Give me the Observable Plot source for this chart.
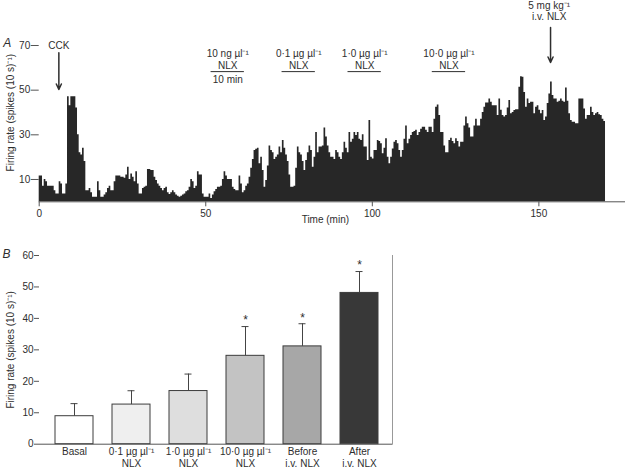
<!DOCTYPE html>
<html><head><meta charset="utf-8">
<script src="https://cdn.jsdelivr.net/npm/d3@7"></script>
<script src="https://cdn.jsdelivr.net/npm/@observablehq/plot@0.6"></script>
<style>
html,body{margin:0;padding:0;background:#fff;}
#wrap{position:relative;width:629px;height:469px;overflow:hidden;background:#fff;}
#wrap svg{position:absolute;left:0;}
</style></head><body><div id="wrap"></div>
<script>
// ---------- Panel A data: firing rate, 0.5-min bins ----------
const binMinutes = 0.5;
const rateA_0to42 = [
  11.5, 11.5, 7, 10, 9, 7, 7, 7, 7, 5,
  3.5, 3.5, 9, 8, 3.5, 3.5, 8, 47, 43, 47,
  47, 47, 42, 30, 22, 21, 24, 18, 5, 5,
  6, 4, 2, 2, 2, 9, 5, 2, 2, 3,
  4, 6, 7, 5, 5, 9, 11.5, 11.5, 11.5, 11,
  11, 10.5, 12, 15.5, 10, 12.5, 11, 9, 13.5, 8,
  3.5, 3.5, 6, 6.5, 7, 14.5, 14.5, 14, 14, 11,
  9.5, 8, 7, 6, 5, 6, 6.5, 4, 3.3, 4,
  5, 4, 3, 2.5, 2
];
const rateA_42to85 = [
  2.5, 3, 3.5, 4.5, 5, 6.5, 10, 9, 6, 7,
  13.5, 12, 12, 3.5, 2, 2, 2, 3.5, 1.5, 3,
  4.5, 5.5, 6.5, 6.5, 7, 10, 13.5, 11.5, 10, 10,
  10, 6.5, 5.5, 5, 5, 11.5, 8, 4, 5, 7,
  8, 11, 15, 19, 23, 23.5, 24, 17, 20, 14,
  6.5, 9.5, 16, 25, 23, 22, 19, 20, 21, 24.5,
  22, 27.5, 24, 21, 18, 12, 6.5, 6.5, 7, 15,
  24.5, 22, 21, 18, 14, 18.5, 22, 25, 23, 15.5,
  20, 31, 22, 24.5, 24.5
];
const rateA_85to128 = [
  25, 33, 29, 25, 22, 20, 20, 19, 23, 22,
  20, 19, 22, 26.7, 24, 22, 31, 26.7, 28, 31,
  29.7, 31, 28, 27.4, 30, 24.5, 24.5, 18.5, 36.4, 20,
  19.2, 23, 23, 27.4, 27, 26, 21.5, 24, 28.2, 20,
  17, 20, 23.7, 26.7, 27.5, 26, 23, 20, 23, 28,
  34, 26, 28, 29.7, 31, 31.5, 32, 29.7, 31, 32.5,
  33.4, 33.4, 32, 31, 33.4, 33.4, 31, 37, 42.4, 43.4,
  38.6, 31, 31, 25, 22, 22, 27.4, 28.5, 27, 26,
  28.2, 27, 24.5, 26.7, 26.7, 34
];
const rateA_128to170 = [
  38, 35, 33, 29, 29, 34, 37, 34, 34, 37,
  40, 42.4, 44.2, 44.2, 46, 44.6, 43, 43, 43, 38.6,
  46, 41, 38.6, 38, 38.6, 42, 45.4, 39.4, 40, 40.9,
  41.2, 41.2, 51.3, 56, 55.8, 49, 42.4, 46, 44, 44.6,
  44.6, 39.4, 42.4, 43, 41, 39.4, 40.9, 36.4, 38, 44,
  48.3, 53.6, 47.6, 46, 46, 44.6, 45, 46, 45, 44.6,
  51, 45, 39.4, 36.4, 35.6, 35.6, 35, 35, 46, 46,
  46, 41.6, 37, 38.6, 38.6, 42.4, 40, 38.6, 39.4, 40,
  39, 38.6, 37, 36
];
const xTicksA = [0, 50, 100, 150];
const yTicksA = [10, 30, 50, 70];

// Annotations (times in min)
const cckTime = 5.9;
const ivTime = 153.5;
const nlxDoses = ["10 ng µl⁻¹", "0·1 µg µl⁻¹", "1·0 µg µl⁻¹", "10·0 µg µl⁻¹"];
const nlxStart = [51.6, 72.9, 92.7, 118.0];
const nlxDuration = 10;

// ---------- Panel B data ----------
const barLabels = ["Basal", "0·1 µg µl⁻¹\nNLX", "1·0 µg µl⁻¹\nNLX", "10·0 µg µl⁻¹\nNLX", "Before\ni.v. NLX", "After\ni.v. NLX"];
const barMeans = [8.9, 12.6, 16.9, 28.1, 31.1, 48.1];
const barErrors = [4.0, 4.4, 5.4, 9.3, 7.2, 6.8];
const barSignificant = [false, false, false, true, true, true];
const yTicksB = [0, 10, 20, 30, 40, 50, 60];

// ---------- styles ----------
const barFills = ["#ffffff", "#efefef", "#dedede", "#c3c3c3", "#a7a7a7", "#383838"];
const ink = "#2e2e2e";
const axisInk = "#555";
const font = "'Liberation Sans', Arial, Helvetica, sans-serif";
const yLabel = "Firing rate (spikes (10 s)⁻¹)";

// ---------- build tables ----------
const rates = [...rateA_0to42, ...rateA_42to85, ...rateA_85to128, ...rateA_128to170];
const seriesA = rates.map((rate, i) => ({t: i * binMinutes, rate}));
seriesA.push({t: rates.length * binMinutes, rate: rates[rates.length - 1]});
const nlx = nlxDoses.map((dose, i) => ({dose, start: nlxStart[i], end: nlxStart[i] + nlxDuration, mid: nlxStart[i] + nlxDuration / 2}));
const barsB = barLabels.map((label, i) => ({label, mean: barMeans[i], hi: barMeans[i] + barErrors[i], sig: barSignificant[i]}));

const chartA = Plot.plot({
  width: 629, height: 235,
  marginLeft: 38.7, marginRight: 4, marginTop: 45, marginBottom: 33.7,
  style: {fontFamily: font, fontSize: "10px", color: ink, background: "white", overflow: "visible"},
  x: {domain: [0, 176]},
  y: {domain: [0, 70]},
  marks: [
    Plot.areaY(seriesA, {x: "t", y: "rate", curve: "step-after", fill: "#272727"}),
    Plot.ruleY([0], {stroke: axisInk}),
    Plot.axisX({ticks: xTicksA, tickSize: 5, tickPadding: 3, label: null, stroke: axisInk}),
    Plot.axisY({ticks: yTicksA, tickSize: 8, tickPadding: 1, label: null, stroke: axisInk, line: true}),
    Plot.text(["Time (min)"], {frameAnchor: "bottom", dx: -7, dy: 21, fill: ink}),
    Plot.text([yLabel], {frameAnchor: "left", textAnchor: "middle", rotate: -90, dx: -28, dy: -11, fill: ink}),
    Plot.text(["A"], {frameAnchor: "top-left", textAnchor: "start", dx: -36, dy: -7, fontStyle: "italic", fontSize: 12, fill: ink}),
    // CCK
    Plot.text(["CCK"], {x: () => cckTime, y: () => 70, fill: ink}),
    Plot.arrow([cckTime], {x1: d => d, x2: d => d, y1: () => 66.8, y2: () => 50.3, stroke: ink, headLength: 6, headAngle: 50}),
    // NLX microinjections
    Plot.text(nlx, {x: "mid", y: () => 66.4, text: "dose", fill: ink}),
    Plot.text(nlx, {x: "mid", y: () => 61.0, text: () => "NLX", fill: ink}),
    Plot.ruleY(nlx, {x1: "start", x2: "end", y: () => 58.3, stroke: ink}),
    Plot.text([nlx[0]], {x: "mid", y: () => 54.5, text: () => "10 min", fill: ink}),
    // i.v. NLX
    Plot.text(["5 mg kg⁻¹"], {x: () => ivTime - 0.4, y: () => 87.9, fill: ink}),
    Plot.text(["i.v. NLX"], {x: () => ivTime - 0.4, y: () => 82.8, fill: ink}),
    Plot.arrow([ivTime], {x1: d => d, x2: d => d, y1: () => 78.1, y2: () => 62.4, stroke: ink, headLength: 6, headAngle: 50})
  ]
});

const chartB = Plot.plot({
  width: 629, height: 234,
  marginLeft: 39, marginRight: 237, marginTop: 20, marginBottom: 25.3,
  style: {fontFamily: font, fontSize: "10px", color: ink, background: "white", overflow: "visible"},
  x: {type: "band", domain: barLabels, range: [33.2, 399.6], padding: 0.336},
  y: {domain: [0, 60]},
  color: {domain: barLabels, range: barFills},
  marks: [
    Plot.barY(barsB, {x: "label", y: "mean", fill: "label", stroke: "#3c3c3c", strokeWidth: 1}),
    Plot.ruleX(barsB, {x: "label", y1: "mean", y2: "hi", stroke: "#444"}),
    Plot.tickY(barsB, {x: "label", y: "hi", stroke: "#444", insetLeft: 15.5, insetRight: 15.5}),
    Plot.text(barsB.filter(d => d.sig), {x: "label", y: "hi", text: () => "*", dy: -6, fontSize: 12, fill: ink}),
    Plot.ruleY([0], {stroke: axisInk}),
    Plot.axisY({ticks: yTicksB, tickSize: 5, tickPadding: 1, label: null, stroke: axisInk, line: true}),
    Plot.axisX({tickSize: 0, tickPadding: 2, label: null, lineHeight: 1.2, fill: ink}),
    Plot.frame({anchor: "right", stroke: "#999"}),
    Plot.text([yLabel], {frameAnchor: "left", textAnchor: "middle", rotate: -90, dx: -28.5, dy: 0, fill: ink}),
    Plot.text(["B"], {frameAnchor: "top-left", textAnchor: "start", dx: -37, dy: -6, fontStyle: "italic", fontSize: 12, fill: ink})
  ]
});

const wrap = document.getElementById("wrap");
chartA.style.top = "0px";
chartB.style.top = "235px";
wrap.appendChild(chartA);
wrap.appendChild(chartB);
</script></body></html>
